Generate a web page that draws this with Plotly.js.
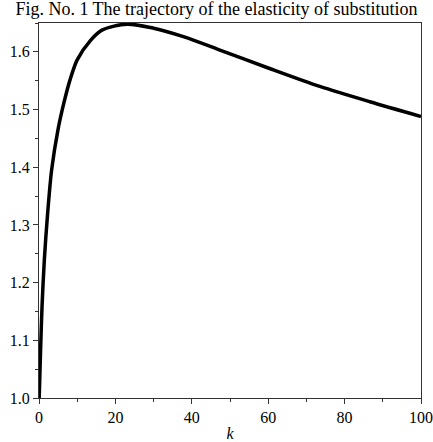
<!DOCTYPE html>
<html>
<head>
<meta charset="utf-8">
<script src="https://cdn.plot.ly/plotly-3.0.1.min.js"></script>
<style>html,body{margin:0;padding:0;background:#fff;}#chart{width:433px;height:442px;}</style>
</head>
<body>
<div id="chart"></div>
<script>
const kValues = [0.05, 0.4, 0.8, 1.4, 2.2, 3.3, 5.0, 6.5, 8.1, 10, 13.5, 16.6, 23, 30, 38, 47, 60, 73.5, 86.6, 100];
const elasticity = [1.0, 1.08, 1.16, 1.24, 1.315, 1.395, 1.466, 1.511, 1.551, 1.586, 1.620, 1.638, 1.648, 1.641, 1.626, 1.604, 1.572, 1.540, 1.5135, 1.488];
const xTicks = [0, 20, 40, 60, 80, 100];
const yTicks = [1.0, 1.1, 1.2, 1.3, 1.4, 1.5, 1.6];
const titleText = "Fig. No. 1 The trajectory of the elasticity of substitution";
const xTitle = "<i>k</i>";

const font = "Liberation Serif";
Plotly.newPlot("chart", [{
  x: kValues, y: elasticity, type: "scatter", mode: "lines",
  line: {color: "#000", width: 3.5, shape: "spline", smoothing: 0.8},
  hoverinfo: "skip"
}], {
  width: 433, height: 442,
  margin: {l: 39, r: 12, t: 23, b: 44},
  paper_bgcolor: "#fff", plot_bgcolor: "#fff",
  showlegend: false,
  font: {family: font, color: "#000", size: 16},
  title: {text: titleText, font: {family: font, size: 18, color: "#000"}, x: 0.5, xanchor: "center", y: 0.995, yanchor: "top"},
  xaxis: {
    range: [0, 100], tickvals: xTicks, ticktext: xTicks.map(String),
    showgrid: false, zeroline: false, showline: true, linecolor: "#333", linewidth: 1, mirror: true,
    ticks: "outside", ticklen: 5, tickcolor: "#333",
    minor: {dtick: 10, tick0: 0, ticks: "outside", ticklen: 3, tickcolor: "#333"},
    tickfont: {family: font, size: 16},
    title: {text: xTitle, font: {family: font, size: 16}, standoff: 2}
  },
  yaxis: {
    range: [1.0, 1.65], tickvals: yTicks, ticktext: yTicks.map(v => v.toFixed(1)),
    showgrid: false, zeroline: false, showline: true, linecolor: "#333", linewidth: 1, mirror: true,
    ticks: "outside", ticklen: 5, tickcolor: "#333",
    minor: {dtick: 0.05, tick0: 1.0, ticks: "outside", ticklen: 3, tickcolor: "#333"},
    tickfont: {family: font, size: 16}
  }
}, {displayModeBar: false, staticPlot: true});
</script>
</body>
</html>
